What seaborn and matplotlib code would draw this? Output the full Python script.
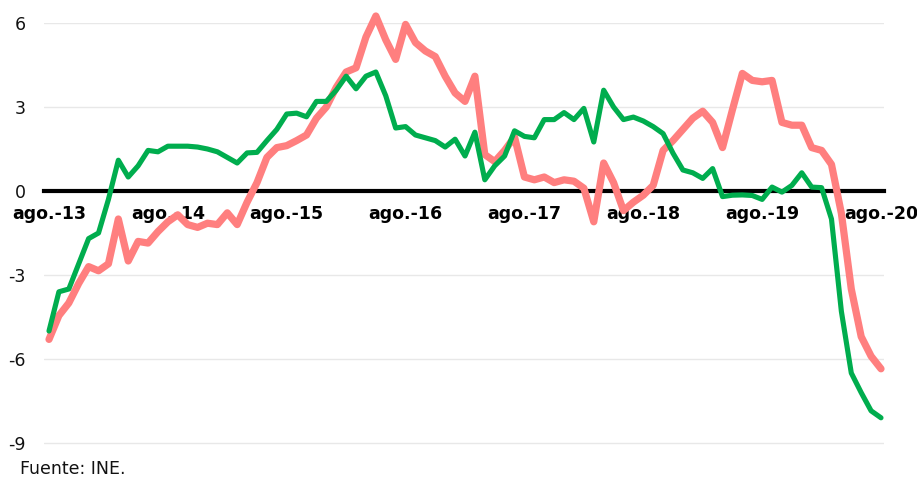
import numpy as np
import pandas as pd
import matplotlib
matplotlib.use("Agg")
import matplotlib.pyplot as plt
import seaborn as sns

# ---- data (monthly, ago.-13 .. ago.-20) ----
tick_labels = ["ago.-13", "ago.-14", "ago.-15", "ago.-16", "ago.-17",
               "ago.-18", "ago.-19", "ago.-20"]

green_values = [
    -5.0, -3.6, -3.5, -2.6, -1.7, -1.5, -0.3, 1.1, 0.5, 0.9,
    1.45, 1.4, 1.6, 1.6, 1.6, 1.57, 1.5, 1.4, 1.2, 1.0,
    1.36, 1.38, 1.8, 2.2, 2.75, 2.78, 2.65, 3.2, 3.2, 3.6,
    4.1, 3.65, 4.1, 4.25, 3.4, 2.25, 2.3, 2.0, 1.9, 1.8,
    1.57, 1.85, 1.25, 2.1, 0.4, 0.9, 1.25, 2.15, 1.95, 1.9,
    2.55, 2.55, 2.8, 2.55, 2.95, 1.75, 3.6, 3.0, 2.55, 2.64,
    2.5, 2.3, 2.05, 1.35, 0.75, 0.65, 0.45, 0.8, -0.2, -0.15,
    -0.14, -0.16, -0.3, 0.14, -0.04, 0.2, 0.65, 0.14, 0.12, -1.0,
    -4.3, -6.5, -7.2, -7.85, -8.1,
]

pink_values = [
    -5.3, -4.45, -4.0, -3.3, -2.7, -2.85, -2.6, -1.0, -2.5, -1.8,
    -1.86, -1.45, -1.1, -0.85, -1.2, -1.3, -1.15, -1.2, -0.78, -1.2,
    -0.4, 0.3, 1.2, 1.55, 1.62, 1.8, 2.0, 2.6, 3.0, 3.7,
    4.25, 4.4, 5.5, 6.25, 5.4, 4.7, 5.95, 5.3, 5.0, 4.8,
    4.1, 3.5, 3.2, 4.1, 1.3, 1.05, 1.45, 1.93, 0.5, 0.4,
    0.5, 0.3, 0.4, 0.35, 0.1, -1.1, 1.0, 0.3, -0.7, -0.4,
    -0.15, 0.2, 1.45, 1.8, 2.2, 2.6, 2.85, 2.45, 1.55, 2.9,
    4.2, 3.95, 3.9, 3.95, 2.45, 2.35, 2.35, 1.55, 1.45, 0.95,
    -0.8, -3.5, -5.2, -5.9, -6.35,
]

y_ticks = [-9, -6, -3, 0, 3, 6]

month_index = np.arange(len(green_values))
df = pd.DataFrame({"mes": month_index, "verde": green_values, "rosa": pink_values})

# ---- style ----
sns.set_theme(style="white")
plt.rcParams["font.family"] = ["DejaVu Sans"]

fig = plt.figure(figsize=(9.17, 4.79), dpi=100)
# y-range -9.1 .. 6 ; 28 px per unit
px_per_unit = 28.0
y_lo, y_hi = -9.1, 6.0
top_px = 23
bottom_px = top_px + (y_hi - y_lo) * px_per_unit
ax = fig.add_axes([44 / 917, 1 - bottom_px / 479, 840 / 917, (bottom_px - top_px) / 479])

sns.lineplot(data=df, x="mes", y="rosa", ax=ax, color="#ff7f7f",
             linewidth=5.2, solid_joinstyle="round", solid_capstyle="round",
             clip_on=False, zorder=3)
sns.lineplot(data=df, x="mes", y="verde", ax=ax, color="#00ad4e",
             linewidth=3.7, solid_joinstyle="round", solid_capstyle="round",
             clip_on=False, zorder=4)

# spines first (set_position resets tick styling)
for side in ["top", "right", "left"]:
    ax.spines[side].set_visible(False)
ax.spines["bottom"].set_position(("data", 0))
ax.spines["bottom"].set_color("black")
ax.spines["bottom"].set_linewidth(3.0)
ax.spines["bottom"].set_zorder(2)

ax.set_xlim(-5 / 9.905, 84 + 3 / 9.905)
ax.set_ylim(y_lo, y_hi)

ax.set_yticks(y_ticks)
ax.set_yticklabels([str(v) for v in y_ticks], fontsize=12.5, color="#111111")
ax.set_xticks(np.arange(0, 85, 12))
ax.set_xticklabels(tick_labels, fontsize=12.5, fontweight="bold", color="#000000")

ax.tick_params(axis="y", length=0, pad=13)
ax.tick_params(axis="x", length=0, pad=10)

ax.yaxis.grid(True, color="#e8e8e8", linewidth=1.0)
ax.xaxis.grid(False)
ax.set_axisbelow(True)

ax.set_xlabel("")
ax.set_ylabel("")

fig.text(20 / 917, 1 - 478 / 479, "Fuente: INE.", fontsize=12.5,
         color="#111111", ha="left", va="bottom")

fig.savefig("out.png", dpi=100, facecolor="white")
